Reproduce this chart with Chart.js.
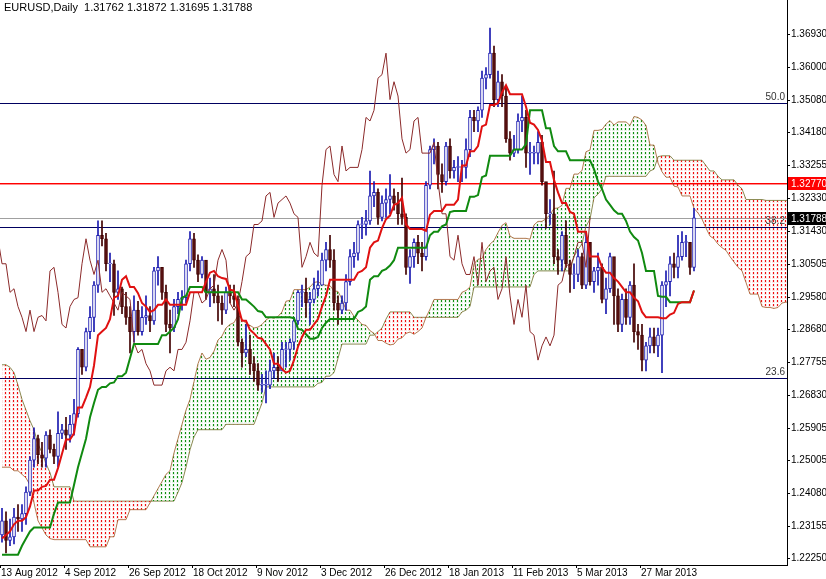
<!DOCTYPE html>
<html>
<head>
<meta charset="utf-8">
<script src="https://cdn.jsdelivr.net/npm/chart.js@4"></script>
<style>
  html, body { margin: 0; padding: 0; background: #fff; }
  #wrap { width: 826px; height: 579px; }
</style>
</head>
<body>
<div id="wrap"><canvas id="c" width="826" height="579"></canvas></div>
<script>
// ===============================
// DATA (daily EURUSD, 13 Aug 2012 - 16 Apr 2013)
// ===============================
const closes = [
  1.2330,1.2275,1.2285,1.2340,1.2335,1.2350,1.2410,1.2500,1.2560,1.2515,
  1.2505,1.2570,1.2530,1.2510,1.2575,1.2585,1.2570,1.2600,1.2630,1.2810,
  1.2760,1.2860,1.2900,1.2990,1.3130,1.3120,1.3050,1.3050,1.2970,1.2980,
  1.2930,1.2900,1.2860,1.2920,1.2860,1.2900,1.2905,1.2890,1.3030,1.3040,
  1.2970,1.2880,1.2870,1.2930,1.2950,1.2955,1.3050,1.3120,1.3060,1.3020,
  1.3060,1.2970,1.2980,1.2960,1.2940,1.2920,1.2970,1.2960,1.2950,1.2830,
  1.2800,1.2810,1.2770,1.2750,1.2710,1.2710,1.2710,1.2750,1.2760,1.2750,
  1.2810,1.2810,1.2830,1.2890,1.2970,1.2970,1.2940,1.2950,1.2980,1.2990,
  1.3060,1.3090,1.3060,1.2940,1.2920,1.2940,1.3000,1.3070,1.3080,1.3160,
  1.3160,1.3170,1.3240,1.3250,1.3180,1.3220,1.3230,1.3240,1.3220,1.3190,
  1.3180,1.3040,1.3070,1.3110,1.3080,1.3070,1.3270,1.3370,1.3380,1.3300,
  1.3280,1.3380,1.3310,1.3320,1.3320,1.3320,1.3370,1.3460,1.3450,1.3480,
  1.3570,1.3580,1.3640,1.3510,1.3560,1.3520,1.3400,1.3360,1.3370,1.3450,
  1.3460,1.3360,1.3360,1.3360,1.3390,1.3280,1.3190,1.3190,1.3070,1.3060,
  1.3130,1.3050,1.3020,1.3020,1.3070,1.2990,1.3110,1.3000,1.3030,1.3040,
  1.2950,1.2980,1.3070,1.2960,1.2880,1.2950,1.2900,1.2990,1.2860,1.2850,
  1.2780,1.2820,1.2845,1.2820,1.2850,1.2990,1.3000,1.3050,1.3040,1.3070,
  1.3110,1.3110,1.3040,1.3179
];
const highs = [
  1.2365,1.2355,1.2335,1.2365,1.2375,1.2375,1.2425,1.2510,1.2590,1.2570,
  1.2550,1.2580,1.2585,1.2545,1.2635,1.2600,1.2620,1.2625,1.2670,1.2815,
  1.2800,1.2870,1.2930,1.3000,1.3170,1.3170,1.3135,1.3080,1.3060,1.3030,
  1.2985,1.2970,1.2930,1.2960,1.2945,1.2930,1.2960,1.2930,1.3040,1.3070,
  1.3030,1.2990,1.2920,1.2950,1.2970,1.2975,1.3060,1.3140,1.3135,1.3075,
  1.3070,1.3045,1.3010,1.3020,1.2990,1.2960,1.2985,1.2990,1.2990,1.2960,
  1.2840,1.2880,1.2850,1.2790,1.2770,1.2740,1.2750,1.2780,1.2800,1.2790,
  1.2830,1.2830,1.2840,1.2900,1.2975,1.2990,1.3010,1.2970,1.3010,1.3030,
  1.3080,1.3110,1.3130,1.3090,1.2960,1.2960,1.3020,1.3090,1.3110,1.3170,
  1.3180,1.3200,1.3310,1.3280,1.3260,1.3240,1.3260,1.3300,1.3260,1.3250,
  1.3290,1.3190,1.3090,1.3120,1.3130,1.3110,1.3280,1.3380,1.3400,1.3390,
  1.3330,1.3390,1.3400,1.3340,1.3350,1.3340,1.3400,1.3480,1.3480,1.3490,
  1.3590,1.3600,1.3710,1.3660,1.3590,1.3580,1.3550,1.3420,1.3410,1.3470,
  1.3520,1.3480,1.3390,1.3380,1.3420,1.3410,1.3270,1.3230,1.3310,1.3090,
  1.3140,1.3170,1.3060,1.3050,1.3090,1.3080,1.3140,1.3110,1.3040,1.3080,
  1.3050,1.3010,1.3080,1.3010,1.2980,1.2965,1.2980,1.3000,1.3050,1.2880,
  1.2880,1.2830,1.2870,1.2870,1.2870,1.3000,1.3030,1.3070,1.3080,1.3130,
  1.3140,1.3130,1.3110,1.3205
];
const lows = [
  1.2270,1.2240,1.2260,1.2265,1.2300,1.2300,1.2320,1.2400,1.2480,1.2490,
  1.2480,1.2480,1.2520,1.2490,1.2480,1.2560,1.2530,1.2550,1.2570,1.2620,
  1.2740,1.2750,1.2840,1.2860,1.2970,1.3100,1.3030,1.3000,1.2905,1.2950,
  1.2910,1.2880,1.2800,1.2830,1.2850,1.2850,1.2880,1.2860,1.2880,1.2990,
  1.2950,1.2860,1.2800,1.2860,1.2910,1.2920,1.2940,1.3030,1.3040,1.3000,
  1.3010,1.2950,1.2930,1.2940,1.2890,1.2880,1.2910,1.2940,1.2930,1.2820,
  1.2760,1.2790,1.2740,1.2720,1.2695,1.2690,1.2660,1.2700,1.2730,1.2720,
  1.2750,1.2760,1.2780,1.2810,1.2880,1.2930,1.2900,1.2880,1.2940,1.2960,
  1.2990,1.3030,1.3040,1.2920,1.2880,1.2910,1.2920,1.2990,1.3040,1.3060,
  1.3120,1.3130,1.3160,1.3210,1.3160,1.3170,1.3180,1.3190,1.3200,1.3160,
  1.3160,1.3020,1.2995,1.3040,1.3050,1.3030,1.3060,1.3260,1.3330,1.3260,
  1.3250,1.3270,1.3290,1.3290,1.3280,1.3280,1.3290,1.3350,1.3420,1.3420,
  1.3460,1.3540,1.3570,1.3490,1.3490,1.3490,1.3390,1.3340,1.3350,1.3360,
  1.3420,1.3320,1.3300,1.3330,1.3330,1.3270,1.3150,1.3160,1.3050,1.3020,
  1.3030,1.3040,1.2970,1.2980,1.3000,1.2980,1.2980,1.2990,1.2970,1.2990,
  1.2940,1.2910,1.2970,1.2880,1.2860,1.2860,1.2880,1.2880,1.2830,1.2810,
  1.2750,1.2750,1.2800,1.2800,1.2790,1.2745,1.2930,1.2960,1.3010,1.3010,
  1.3060,1.3070,1.3020,1.3030
];
const firstOpen = 1.2290;

// Ichimoku values before enough history exists
const tenkanEarly = [1.228,1.229,1.230,1.232,1.233,1.233,1.234,1.237];
const kijunEarly = [
  1.2235,1.2235,1.2235,1.2235,1.2235,1.226,1.228,1.230,1.2311,1.2311,
  1.2311,1.2311,1.2311,1.235,1.2381,1.2381,1.2381,1.2381,1.243,1.248,
  1.252,1.256,1.262,1.266,1.2697
];
const spanAEarly = [
  1.248,1.248,1.248,1.247,1.247,1.246,1.245,1.243,1.238,1.233,
  1.231,1.229,1.228,1.2277,1.2277,1.2277,1.2277,1.2277,1.2277,1.2277,
  1.2277,1.2277,1.2257,1.2257,1.2257,1.2257,1.2257,1.2285,1.2285,1.2333,
  1.2333,1.2333,1.2361,1.2361,1.2361,1.2361,1.2361,1.238,1.240,1.242,
  1.244,1.246,1.247,1.252,1.256,1.260,1.264,1.267,1.272,1.277,
  1.280
];
const spanBEarly = [
  1.2767,1.2767,1.276,1.2745,1.271,1.267,1.264,1.261,1.2585,1.2545,
  1.2521,1.249,1.2465,1.2425,1.2425,1.2425,1.2425,1.2425,1.2385,1.2385,
  1.2385,1.2385,1.2385,1.2385,1.2385,1.2385,1.2385,1.2385,1.2385,1.2385,
  1.2385,1.2385,1.2385,1.2385,1.2385,1.2385,1.2385,1.2385,1.2385,1.2385,
  1.2385,1.2385,1.2385,1.2385,1.241,1.2437,1.248,1.2529,1.2565,1.2585,
  1.2585,1.2585,1.2585,1.2585,1.2585,1.2585,1.2600,1.2600,1.2600,1.2600,
  1.2600,1.2600,1.2600,1.2600,1.263,1.266,1.2705,1.2705,1.2705,1.2705,
  1.2705,1.2705,1.2705,1.2705,1.2705,1.2705,1.2705
];

const xTickPos = [0,16,32,48,64,80,96,112,128,144,160];
const xTickLabels = ['13 Aug 2012','4 Sep 2012','26 Sep 2012','18 Oct 2012','9 Nov 2012','3 Dec 2012',
  '26 Dec 2012','18 Jan 2013','11 Feb 2013','5 Mar 2013','27 Mar 2013'];
const yTicks = [1.36930,1.36000,1.35080,1.34180,1.33255,1.32330,1.31430,1.30505,1.29580,
  1.28680,1.27755,1.26830,1.25905,1.25005,1.24080,1.23155,1.22250];

const fibLevels = [1.3500, 1.3153, 1.2730];
const fibNames = ['50.0', '38.2', '23.6'];
const redLevel = 1.3277;
const lastPrice = 1.31788;

// ===============================
// ICHIMOKU
// ===============================
function mid(i, n) {
  let hh = -Infinity, ll = Infinity;
  for (let k = i - n + 1; k <= i; k++) { hh = Math.max(hh, highs[k]); ll = Math.min(ll, lows[k]); }
  return (hh + ll) / 2;
}
const nBars = closes.length;
const opens = closes.map((c, i) => i === 0 ? firstOpen : closes[i - 1]);
const tenkan = closes.map((c, i) => i < 8 ? tenkanEarly[i] : mid(i, 9));
const kijun = closes.map((c, i) => i < 25 ? kijunEarly[i] : mid(i, 26));
const spanA = [], spanB = [];
for (let j = 0; j < nBars + 26; j++) {
  spanA.push({x: j, y: j < 51 ? spanAEarly[j] : (tenkan[j - 26] + kijun[j - 26]) / 2});
  spanB.push({x: j, y: j < 77 ? spanBEarly[j] : mid(j - 26, 52)});
}

// ===============================
// PATTERNS
// ===============================
function dotPattern(color, soft) {
  const p = document.createElement('canvas');
  p.width = 4; p.height = 4;
  const g = p.getContext('2d');
  g.fillStyle = soft;
  g.fillRect(0, 0, 3, 3);
  g.fillStyle = color;
  g.fillRect(1, 0, 1, 2);
  return g.createPattern(p, 'repeat');
}

const bull = closes.map((c, i) => c >= opens[i]);
const bodies = closes.map((c, i) => ({x: i, y: Math.abs(c - opens[i]) < 0.0002 ? [opens[i], c + 0.0002] : [opens[i], c]}));
const wicks = closes.map((c, i) => ({x: i, y: [lows[i], highs[i]]}));

const levelsPlugin = {
  id: 'levels',
  beforeDatasetsDraw(chart) {
    const {ctx, chartArea: a, scales: {y}} = chart;
    ctx.save();
    const line = (v, col) => {
      const py = Math.round(y.getPixelForValue(v));
      ctx.fillStyle = col;
      ctx.fillRect(a.left, py, a.right - a.left, 1);
      return py;
    };
    ctx.font = '10px Liberation Sans';
    ctx.textAlign = 'right';
    ctx.textBaseline = 'bottom';
    fibLevels.forEach((v, k) => {
      const py = line(v, '#000060');
      ctx.fillStyle = '#333';
      ctx.fillText(fibNames[k], a.right - 2, py - 1);
    });
    const rp = line(redLevel, '#ff0000');
    ctx.fillStyle = 'rgba(255,0,0,0.45)';
    ctx.fillRect(a.left, rp + 1, a.right - a.left, 1);
    line(lastPrice, '#a0a0a0');
    ctx.restore();
  },
  afterDraw(chart) {
    const {ctx, chartArea: a, scales: {x, y}} = chart;
    ctx.save();
    ctx.font = '10px Liberation Sans';
    ctx.fillStyle = '#000';
    // right axis
    ctx.textAlign = 'left';
    ctx.textBaseline = 'middle';
    yTicks.forEach(v => {
      const py = Math.round(y.getPixelForValue(v));
      ctx.fillRect(a.right, py, 3, 1);
      ctx.fillText(v.toFixed(5), a.right + 4, py);
    });
    // bottom axis
    ctx.textBaseline = 'top';
    xTickPos.forEach((v, k) => {
      const px = Math.round(x.getPixelForValue(v - 0.5));
      ctx.fillRect(px, a.bottom, 1, 3);
      ctx.fillText(xTickLabels[k], px + 1, a.bottom + 3);
    });
    // price boxes
    ctx.textBaseline = 'middle';
    const box = (v, bg, txt) => {
      const py = Math.round(y.getPixelForValue(v));
      ctx.fillStyle = bg;
      ctx.fillRect(a.right + 1, py - 6, 826 - a.right - 1, 13);
      ctx.fillStyle = '#fff';
      ctx.fillText(txt, a.right + 4, py + 1);
    };
    box(redLevel, '#ff0000', '1.32770');
    box(lastPrice, '#000000', '1.31788');
    ctx.fillStyle = '#000';
    ctx.textBaseline = 'top';
    ctx.font = '11px Liberation Sans';
    ctx.fillText('EURUSD,Daily  1.31762 1.31872 1.31695 1.31788', 4, 2);
    ctx.restore();
  }
};

new Chart(document.getElementById('c'), {
  type: 'bar',
  data: {
    datasets: [
      {type: 'line', label: 'tenkan', data: tenkan.map((v, i) => ({x: i, y: v})),
        borderColor: '#e01010', borderWidth: 2, pointRadius: 0, order: 0},
      {type: 'line', label: 'kijun', data: kijun.map((v, i) => ({x: i, y: v})),
        borderColor: '#108a10', borderWidth: 2, pointRadius: 0, order: 0},
      {type: 'line', label: 'chikou', data: closes.map((v, i) => ({x: i - 26, y: v})),
        borderColor: '#8b2a2a', borderWidth: 1, pointRadius: 0, order: 0},
      {label: 'wicks', data: wicks, backgroundColor: bull.map(b => b ? '#1a1ab0' : '#400000'),
        barThickness: 1, grouped: false, order: 2},
      {label: 'bodies', data: bodies, backgroundColor: bull.map(b => b ? '#ffffff' : '#5a1010'),
        borderColor: bull.map(b => b ? '#1a1ab0' : '#400000'), borderWidth: 1, borderSkipped: false,
        barThickness: 3, grouped: false, order: 1},
      {type: 'line', label: 'spanA', data: spanA, borderColor: 'rgba(160,90,40,0.8)', borderWidth: 1,
        pointRadius: 0, order: 5,
        fill: {target: 6, above: dotPattern('#109010', 'rgba(40,160,40,0.12)'),
          below: dotPattern('#ee1010', 'rgba(230,40,40,0.12)')}},
      {type: 'line', label: 'spanB', data: spanB, borderColor: 'rgba(110,110,40,0.8)', borderWidth: 1,
        pointRadius: 0, order: 5}
    ]
  },
  options: {
    responsive: false,
    animation: false,
    layout: {padding: 0},
    plugins: {legend: {display: false}, tooltip: {enabled: false}},
    scales: {
      x: {
        type: 'linear', min: -0.5, max: 196.25, offset: false,
        afterFit: s => { s.height = 14; },
        ticks: {display: false},
        grid: {display: false},
        border: {color: '#000'}
      },
      y: {
        position: 'right', min: 1.2206, max: 1.3789,
        afterFit: s => { s.width = 39; },
        ticks: {display: false},
        grid: {display: false},
        border: {color: '#000'}
      }
    }
  },
  plugins: [levelsPlugin]
});
</script>
</body>
</html>
